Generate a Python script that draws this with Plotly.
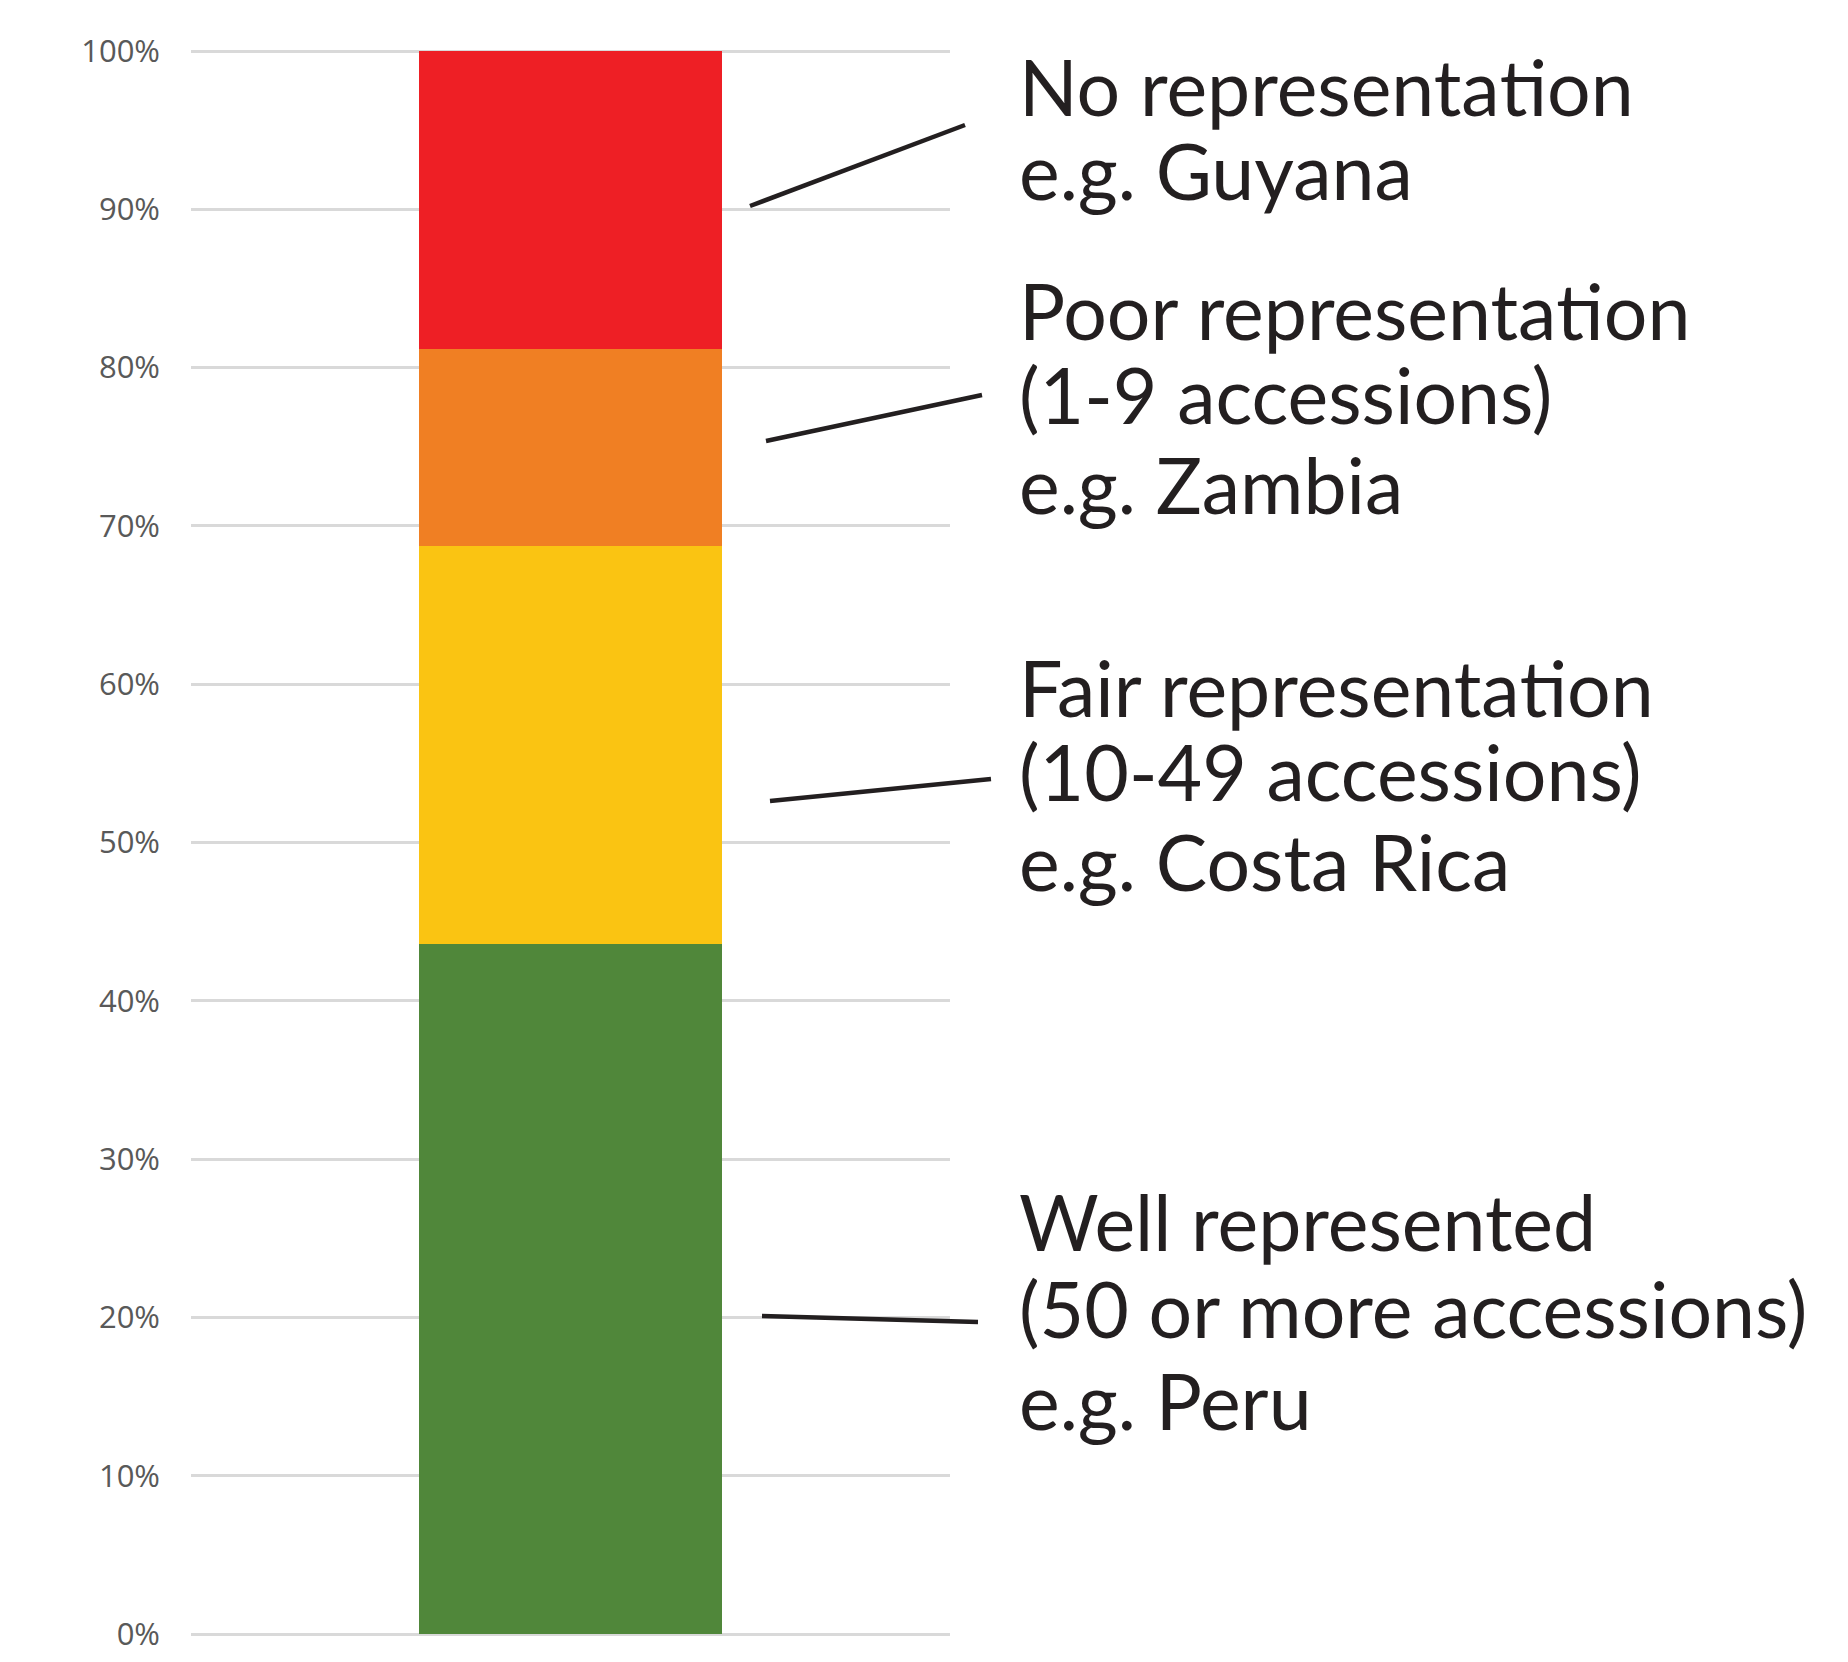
import plotly.graph_objects as go

# ---- data ----
categories = ["Well represented", "Fair representation", "Poor representation", "No representation"]
shares = [43.6, 25.1, 12.5, 18.8]
colors = ["#50873A", "#FAC412", "#F07F23", "#EE1F25"]
tick_values = [0, 10, 20, 30, 40, 50, 60, 70, 80, 90, 100]
tick_labels = [f"{v}%" for v in tick_values]

ZW = "\u200c"  # zero-width non-joiner, keeps "t" and "i" from fusing into a ligature
label_lines = [
    ["No representa" + ZW + "tion", "e.g. Guyana"],
    ["Poor representa" + ZW + "tion", "(1-9 accessions)", "e.g. Zambia"],
    ["Fair representa" + ZW + "tion", "(10-49 accessions)", "e.g. Costa Rica"],
    ["Well represented", "(50 or more accessions)", "e.g. Peru"],
]

# ---- layout geometry (page pixels) ----
W, H = 1848, 1662
BODY = 8                    # default page margin around the plot div
PL, PR = 191, 950           # plot area left/right on the page
PT, PB = 51, 1634           # plot area top/bottom on the page
PAD = 0.3158                # small y-range padding so 0% and 100% gridlines show
PXU = (PB - PT) / 100.0
EXTRA = PAD * PXU


def px_x(x):
    return (x - PL) / (PR - PL)


def px_y(y):
    return (PB + EXTRA - y) / (PB - PT + 2 * EXTRA)


fig = go.Figure()
for name, v, c in zip(categories, shares, colors):
    fig.add_trace(go.Bar(x=[0], y=[v], name=name, marker=dict(color=c, line=dict(width=0)),
                         width=0.798, showlegend=False, hoverinfo="skip"))

FONT = "Lato"
FS = 77
baselines = [[116, 200], [340, 424, 514], [717, 801, 891], [1251, 1338, 1430]]
annotations = []
for lines, bls in zip(label_lines, baselines):
    for txt, bl in zip(lines, bls):
        annotations.append(dict(
            text=txt, xref="paper", yref="paper", x=px_x(1017), y=px_y(bl - 0.387 * FS),
            xanchor="left", yanchor="middle", showarrow=False,
            font=dict(family=FONT, size=FS, color="#231F20")))

leaders = [((750, 206), (965, 125)),
           ((766, 441), (982, 395)),
           ((770, 801), (991, 779)),
           ((762, 1316), (978, 1322))]
shapes = []
for (x0, y0), (x1, y1) in leaders:
    shapes.append(dict(type="line", xref="paper", yref="paper",
                       x0=px_x(x0), y0=px_y(y0), x1=px_x(x1), y1=px_y(y1),
                       line=dict(color="#231F20", width=4.5)))

fig.update_layout(
    width=W, height=H,
    margin=dict(l=round(PL - BODY), r=round(W - (PR - BODY)),
                t=round(PT - BODY - EXTRA), b=round(H - (PB - BODY) - EXTRA), pad=0),
    paper_bgcolor="white", plot_bgcolor="white",
    barmode="stack",
    annotations=annotations, shapes=shapes,
    xaxis=dict(range=[-1, 1], showticklabels=False, showgrid=False, zeroline=False,
               showline=False, fixedrange=True),
    yaxis=dict(range=[-PAD, 100 + PAD], tickvals=tick_values, ticktext=tick_labels,
               showgrid=True, gridcolor="#D9D9D9", gridwidth=3, zeroline=False,
               showline=False, ticks="", ticklabelstandoff=30,
               tickfont=dict(family="Open Sans", size=31, color="#595959")),
)

fig.write_html("out.html")
